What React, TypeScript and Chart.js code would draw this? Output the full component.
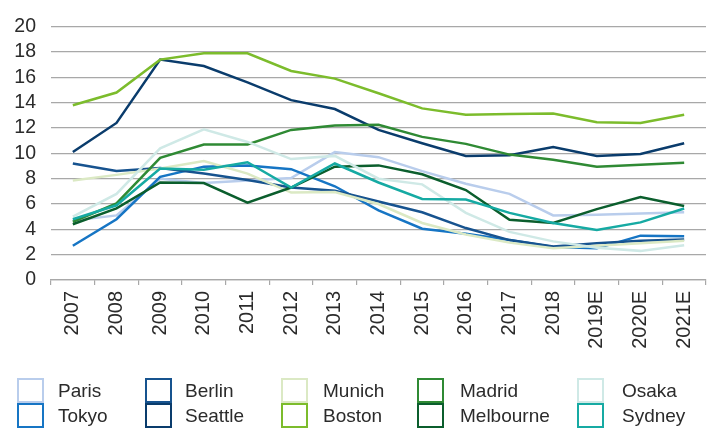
import React, { useEffect, useRef } from "react";
import { Chart, registerables } from "chart.js";

Chart.register(...registerables);

const categories = ["2007", "2008", "2009", "2010", "2011", "2012", "2013", "2014", "2015", "2016", "2017", "2018", "2019E", "2020E", "2021E"];

const paris = [4.7, 5.1, 8.0, 7.65, 7.85, 8.05, 10.1, 9.7, 8.6, 7.6, 6.8, 5.1, 5.15, 5.25, 5.35];
const tokyo = [2.7, 4.8, 8.15, 8.95, 9.05, 8.75, 7.4, 5.5, 4.05, 3.65, 3.15, 2.6, 2.5, 3.5, 3.45];
const berlin = [9.2, 8.6, 8.85, 8.4, 7.9, 7.3, 7.05, 6.2, 5.35, 4.1, 3.15, 2.65, 2.9, 3.1, 3.2];
const seattle = [10.1, 12.4, 17.4, 16.9, 15.6, 14.2, 13.5, 11.85, 10.8, 9.8, 9.85, 10.5, 9.8, 9.95, 10.8];
const munich = [7.85, 8.3, 8.8, 9.4, 8.4, 6.9, 6.95, 6.0, 4.5, 3.6, 2.95, 2.5, 2.7, 2.9, 3.1];
const boston = [13.8, 14.8, 17.4, 17.9, 17.9, 16.5, 15.9, 14.75, 13.55, 13.05, 13.1, 13.15, 12.45, 12.4, 13.05];
const madrid = [4.6, 6.05, 9.65, 10.7, 10.7, 11.85, 12.2, 12.25, 11.3, 10.75, 9.9, 9.5, 8.95, 9.1, 9.25];
const melbourne = [4.4, 5.65, 7.7, 7.65, 6.1, 7.3, 8.95, 9.05, 8.35, 7.1, 4.75, 4.5, 5.6, 6.55, 5.85];
const osaka = [5.0, 6.8, 10.4, 11.9, 10.9, 9.55, 9.8, 8.0, 7.55, 5.3, 3.8, 3.05, 2.55, 2.3, 2.75];
const sydney = [4.8, 5.9, 8.8, 8.7, 9.3, 7.3, 9.2, 7.7, 6.4, 6.35, 5.3, 4.5, 3.95, 4.55, 5.65];

const yTicks = [0, 2, 4, 6, 8, 10, 12, 14, 16, 18, 20];

const seriesNames = ["Paris", "Tokyo", "Berlin", "Seattle", "Munich", "Boston", "Madrid", "Melbourne", "Osaka", "Sydney"];
const seriesData = [paris, tokyo, berlin, seattle, munich, boston, madrid, melbourne, osaka, sydney];
const seriesColors = ["#b9cdec", "#1675c4", "#17538f", "#0a3c6c", "#dbe9c4", "#7cbc2c", "#2f8a34", "#0b5e2d", "#cfe9e6", "#16aaa3"];

const FONT = "'Liberation Sans', Arial, Helvetica, sans-serif";
const TEXT = "#2b2b2b";

// legend layout: columns (x of box, x of text)
const legendCols = [
  { box: 17, text: 58 },
  { box: 145, text: 185 },
  { box: 281, text: 323 },
  { box: 417, text: 460 },
  { box: 577, text: 622 },
];

export default function App() {
  const ref = useRef<HTMLCanvasElement | null>(null);

  useEffect(() => {
    if (!ref.current) return;
    const chart = new Chart(ref.current, {
      type: "line",
      data: {
        labels: categories,
        datasets: seriesNames.map((name, i) => ({
          label: name,
          data: seriesData[i],
          borderColor: seriesColors[i],
          backgroundColor: seriesColors[i],
          borderWidth: 2.5,
          pointRadius: 0,
          tension: 0,
          fill: false,
          order: seriesNames.length - i,
        })),
      },
      options: {
        responsive: false,
        animation: false,
        layout: { padding: { left: 0, right: 12, top: 20, bottom: 80 } },
        plugins: { legend: { display: false }, tooltip: { enabled: false } },
        scales: {
          x: {
            offset: true,
            grid: {
              offset: true,
              drawOnChartArea: false,
              drawTicks: true,
              tickLength: 5,
              color: "#a8a8a8",
              lineWidth: 1.2,
            },
            border: { display: true, color: "#a8a8a8", width: 1.2 },
            ticks: {
              minRotation: 90,
              maxRotation: 90,
              autoSkip: false,
              padding: 6,
              color: TEXT,
              font: { family: FONT, size: 20 },
            },
            afterFit: (s: any) => {
              s.height = 70;
            },
          },
          y: {
            min: 0,
            max: 20,
            afterBuildTicks: (s: any) => {
              s.ticks = yTicks.map((v) => ({ value: v }));
            },
            grid: { drawTicks: false, color: "#a8a8a8", lineWidth: 1.2 },
            border: { display: false },
            ticks: {
              autoSkip: false,
              padding: 15,
              color: TEXT,
              font: { family: FONT, size: 19.5 },
            },
            afterFit: (s: any) => {
              s.width = 51;
            },
          },
        },
      },
    });
    return () => chart.destroy();
  }, []);

  return (
    <div style={{ position: "absolute", left: 0, top: 0, width: 718, height: 430, background: "#fff", overflow: "hidden" }}>
      <canvas ref={ref} width={718} height={430} style={{ position: "absolute", left: 0, top: 0, width: 718, height: 430 }} />
      {seriesNames.map((name, i) => {
        const col = legendCols[Math.floor(i / 2)];
        const row = i % 2;
        const top = row === 0 ? 378 : 403;
        return (
          <React.Fragment key={name}>
            <div
              style={{
                position: "absolute",
                left: col.box,
                top,
                width: 27,
                height: 25,
                boxSizing: "border-box",
                border: `2px solid ${seriesColors[i]}`,
                background: "#fff",
              }}
            />
            <div
              style={{
                position: "absolute",
                left: col.text,
                top: top,
                height: 25,
                lineHeight: "25px",
                fontFamily: FONT,
                fontSize: 19,
                color: TEXT,
                whiteSpace: "nowrap",
              }}
            >
              {name}
            </div>
          </React.Fragment>
        );
      })}
    </div>
  );
}
